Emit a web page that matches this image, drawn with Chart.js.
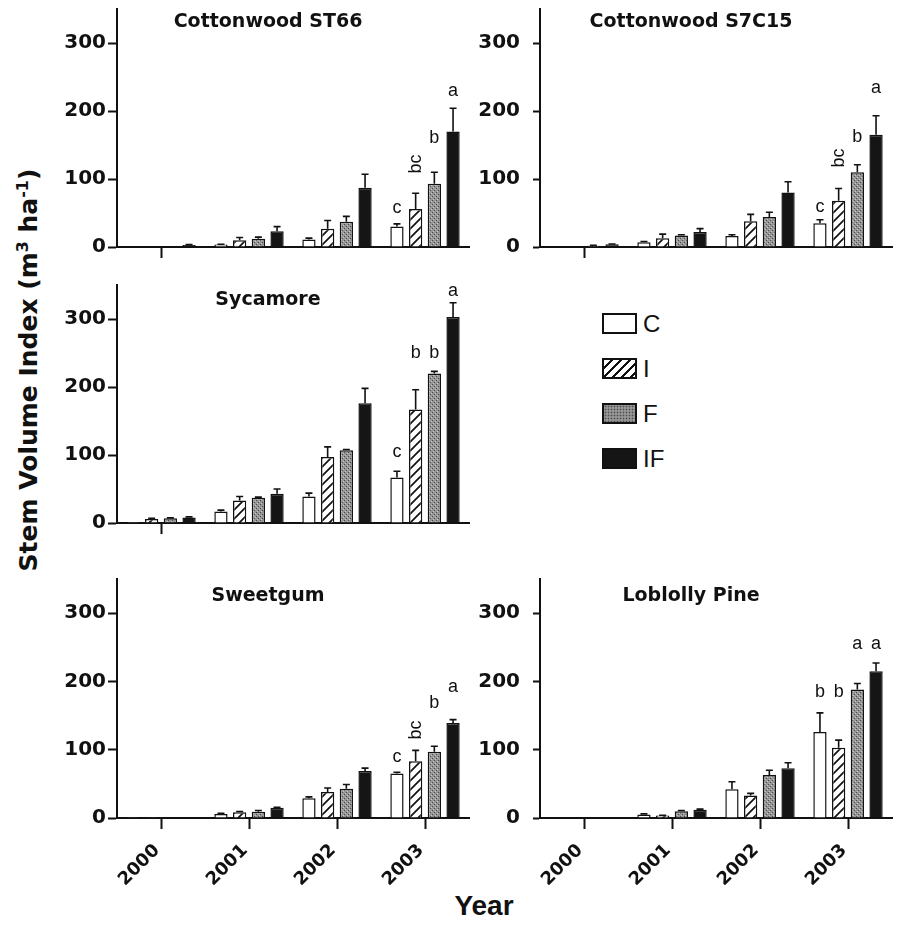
<!DOCTYPE html>
<html>
<head>
<meta charset="utf-8">
<script src="https://cdn.jsdelivr.net/npm/chart.js@4/dist/chart.umd.min.js"></script>
<style>
html,body{margin:0;padding:0;background:#fff;}
body{width:902px;height:931px;position:relative;overflow:hidden;color:#111;}
canvas{position:absolute;}
.title{position:absolute;font:bold 19px "DejaVu Sans",sans-serif;transform:translate(-50%,-50%);white-space:nowrap;color:#111;}
.ytitle{position:absolute;left:28px;top:370px;font:bold 25px "DejaVu Sans",sans-serif;white-space:nowrap;transform:translate(-50%,-50%) rotate(-90deg);color:#111;}
.ytitle sup{font-size:16px;vertical-align:0.55em;line-height:0;}
.xtitle{position:absolute;left:484px;top:906px;font:bold 28px "Liberation Sans",sans-serif;transform:translate(-50%,-50%);color:#111;}
.lgbox{position:absolute;left:602px;width:31px;height:17px;border:2px solid #111;}
.lglab{position:absolute;left:643px;font:24px "Liberation Sans",sans-serif;transform:translateY(-50%);color:#111;}
</style>
</head>
<body>
<div class="ytitle">Stem Volume Index (m<sup>3</sup> ha<sup>-1</sup>)</div>
<div class="xtitle">Year</div>
<script>
// ---------------- DATA ----------------
const years = ['2000', '2001', '2002', '2003'];
const treatments = ['C', 'I', 'F', 'IF'];

// Cottonwood ST66
const st66_C = [0.5, 3.5, 11, 30];
const st66_I = [1, 10, 27, 56];
const st66_F = [1, 12, 37, 93];
const st66_IF = [3, 23, 87, 170];
const st66_errC = [0, 0.5, 2, 4];
const st66_errI = [0, 4, 12, 23];
const st66_errF = [0, 2.5, 8, 17];
const st66_errIF = [0.5, 7, 20, 34];
const st66_letters = ['c', 'bc', 'b', 'a'];
const st66_letterY = [57, 122, 160, 230];

// Cottonwood S7C15
const s7c15_C = [0.5, 7, 16, 35];
const s7c15_I = [1, 13, 38, 68];
const s7c15_F = [2, 17, 44, 110];
const s7c15_IF = [4, 22, 80, 165];
const s7c15_errC = [0, 1, 2, 5];
const s7c15_errI = [0, 6, 10, 18];
const s7c15_errF = [0.5, 1, 7, 11];
const s7c15_errIF = [0.5, 5, 16, 28];
const s7c15_letters = ['c', 'bc', 'b', 'a'];
const s7c15_letterY = [59, 131, 161, 234];

// Sycamore
const syc_C = [1.5, 17, 39, 67];
const syc_I = [6, 33, 97, 167];
const syc_F = [7, 37, 107, 220];
const syc_IF = [8, 43, 176, 303];
const syc_errC = [0, 2, 5, 9];
const syc_errI = [1, 6, 15, 29];
const syc_errF = [0.5, 1, 1, 3];
const syc_errIF = [1, 7, 22, 21];
const syc_letters = ['c', 'b', 'b', 'a'];
const syc_letterY = [104, 250, 250, 341];

// Sweetgum
const swg_C = [0.3, 6, 29, 65];
const swg_I = [0.3, 8.5, 38, 83];
const swg_F = [0.5, 9, 43, 97];
const swg_IF = [1, 15, 69, 139];
const swg_errC = [0, 1, 2, 2];
const swg_errI = [0, 1, 6, 16];
const swg_errF = [0, 2, 6, 8];
const swg_errIF = [0, 0.5, 4, 5];
const swg_letters = ['c', 'bc', 'b', 'a'];
const swg_letterY = [89, 129, 168, 192];

// Loblolly Pine
const lob_C = [0, 5, 42, 126];
const lob_I = [0, 3.5, 33, 103];
const lob_F = [0, 10, 63, 188];
const lob_IF = [0, 12, 73, 215];
const lob_errC = [0, 1, 11, 28];
const lob_errI = [0, 0.5, 3, 11];
const lob_errF = [0, 1, 7, 9];
const lob_errIF = [0, 1, 8, 12];
const lob_letters = ['b', 'b', 'a', 'a'];
const lob_letterY = [184, 184, 255, 255];

const yTicks = [0, 100, 200, 300];
const yMax = 350;

// ---------------- PATTERNS ----------------
function hatchPattern() {
  const c = document.createElement('canvas');
  c.width = 9; c.height = 9;
  const g = c.getContext('2d');
  g.fillStyle = '#fff'; g.fillRect(0, 0, 9, 9);
  g.strokeStyle = '#111'; g.lineWidth = 1.7;
  g.beginPath();
  g.moveTo(-1, 10); g.lineTo(10, -1);
  g.moveTo(-1, 1); g.lineTo(1, -1);
  g.moveTo(8, 10); g.lineTo(10, 8);
  g.stroke();
  return g.createPattern(c, 'repeat');
}
function stipplePattern() {
  const c = document.createElement('canvas');
  c.width = 4; c.height = 4;
  const g = c.getContext('2d');
  g.fillStyle = '#969696'; g.fillRect(0, 0, 4, 4);
  g.fillStyle = '#4a4a4a';
  g.fillRect(0, 0, 1, 1); g.fillRect(2, 2, 1, 1);
  g.fillStyle = '#c4c4c4';
  g.fillRect(1, 3, 1, 1); g.fillRect(3, 1, 1, 1);
  return g.createPattern(c, 'repeat');
}
const fills = ['#ffffff', hatchPattern(), stipplePattern(), '#151515'];

// ---------------- PLUGIN: error bars + letters ----------------
const errLetterPlugin = {
  id: 'errLetters',
  afterDatasetsDraw(chart, args, opts) {
    const ctx = chart.ctx;
    const ys = chart.scales.y;
    ctx.save();
    ctx.strokeStyle = '#111';
    ctx.lineWidth = 1.6;
    chart.data.datasets.forEach((ds, i) => {
      const meta = chart.getDatasetMeta(i);
      meta.data.forEach((bar, j) => {
        const e = ds.errors[j];
        if (!e) return;
        const yTop = ys.getPixelForValue(ds.data[j] + e);
        ctx.beginPath();
        ctx.moveTo(bar.x, bar.y);
        ctx.lineTo(bar.x, yTop);
        ctx.moveTo(bar.x - 3.5, yTop);
        ctx.lineTo(bar.x + 3.5, yTop);
        ctx.stroke();
      });
    });
    ctx.fillStyle = '#111';
    ctx.font = '18px "Liberation Sans", sans-serif';
    ctx.textAlign = 'center';
    ctx.textBaseline = 'middle';
    (opts.letters || []).forEach((t, i) => {
      const bar = chart.getDatasetMeta(i).data[3];
      const y = ys.getPixelForValue(opts.letterY[i]);
      if (t.length > 1) {
        ctx.save();
        ctx.translate(bar.x, y);
        ctx.rotate(-Math.PI / 2);
        ctx.fillText(t, 0, 0);
        ctx.restore();
      } else {
        ctx.fillText(t, bar.x, y);
      }
    });
    ctx.restore();
  }
};

// ---------------- PANELS ----------------
const LEFT = {x: 0, w: 480, yw: 117, padR: 11, tickLen: 9, tickPad: 2, tx: 268};
const RIGHT = {x: 470, w: 432, yw: 70, padR: 10, tickLen: 7, tickPad: 13, tx: 691};
const TOP = {y: 0, h: 262, xh: 15, ty: 20, bottom: false};
const MID = {y: 276, h: 262, xh: 15, ty: 298, bottom: false};
const BOT = {y: 570, h: 330, xh: 82, ty: 594, bottom: true};

const panels = [
  {title: 'Cottonwood ST66', col: LEFT, row: TOP,
   means: [st66_C, st66_I, st66_F, st66_IF], errs: [st66_errC, st66_errI, st66_errF, st66_errIF],
   letters: st66_letters, letterY: st66_letterY},
  {title: 'Cottonwood S7C15', col: RIGHT, row: TOP,
   means: [s7c15_C, s7c15_I, s7c15_F, s7c15_IF], errs: [s7c15_errC, s7c15_errI, s7c15_errF, s7c15_errIF],
   letters: s7c15_letters, letterY: s7c15_letterY},
  {title: 'Sycamore', col: LEFT, row: MID,
   means: [syc_C, syc_I, syc_F, syc_IF], errs: [syc_errC, syc_errI, syc_errF, syc_errIF],
   letters: syc_letters, letterY: syc_letterY},
  {title: 'Sweetgum', col: LEFT, row: BOT,
   means: [swg_C, swg_I, swg_F, swg_IF], errs: [swg_errC, swg_errI, swg_errF, swg_errIF],
   letters: swg_letters, letterY: swg_letterY},
  {title: 'Loblolly Pine', col: RIGHT, row: BOT,
   means: [lob_C, lob_I, lob_F, lob_IF], errs: [lob_errC, lob_errI, lob_errF, lob_errIF],
   letters: lob_letters, letterY: lob_letterY}
];

panels.forEach(p => {
  const col = p.col, row = p.row;
  const canvas = document.createElement('canvas');
  canvas.width = col.w; canvas.height = row.h;
  canvas.style.left = col.x + 'px';
  canvas.style.top = row.y + 'px';
  document.body.appendChild(canvas);

  const t = document.createElement('div');
  t.className = 'title';
  t.textContent = p.title;
  t.style.left = col.tx + 'px';
  t.style.top = row.ty + 'px';
  document.body.appendChild(t);

  new Chart(canvas.getContext('2d'), {
    type: 'bar',
    data: {
      labels: years,
      datasets: treatments.map((name, i) => ({
        label: name,
        data: p.means[i],
        errors: p.errs[i],
        backgroundColor: fills[i],
        borderColor: '#111',
        borderWidth: 1.5,
        categoryPercentage: 0.85,
        barPercentage: 0.71
      }))
    },
    options: {
      responsive: false,
      devicePixelRatio: 1,
      animation: false,
      events: [],
      layout: {padding: {top: 9, right: col.padR, left: 0, bottom: 0}},
      plugins: {
        legend: {display: false},
        tooltip: {enabled: false},
        errLetters: {letters: p.letters, letterY: p.letterY}
      },
      scales: {
        x: {
          type: 'category',
          offset: true,
          grid: {
            display: true, drawOnChartArea: false, drawTicks: true, tickLength: 11, offset: false,
            tickWidth: 2,
            tickColor: (c) => (row.bottom || c.index === 0) ? '#111' : 'rgba(0,0,0,0)'
          },
          border: {display: true, color: '#111', width: 2},
          ticks: {
            display: row.bottom, autoSkip: false, minRotation: 45, maxRotation: 45, padding: 11,
            labelOffset: -4,
            color: '#111', font: {family: 'DejaVu Sans', weight: 'bold', size: 18}
          },
          afterFit: (s) => { s.height = row.xh; s.paddingLeft = 0; s.paddingRight = 0; s.paddingTop = 0; s.paddingBottom = 0; }
        },
        y: {
          min: 0, max: yMax,
          afterBuildTicks: (s) => { s.ticks = yTicks.map(v => ({value: v})); },
          ticks: {
            includeBounds: false, padding: col.tickPad, color: '#111',
            font: {family: 'DejaVu Sans', weight: 'bold', size: 20}
          },
          grid: {display: true, drawOnChartArea: false, drawTicks: true, tickLength: col.tickLen, tickWidth: 2, tickColor: '#111'},
          border: {display: true, color: '#111', width: 2},
          afterFit: (s) => { s.width = col.yw; s.paddingTop = 0; s.paddingBottom = 0; }
        }
      }
    },
    plugins: [errLetterPlugin]
  });
});

// ---------------- LEGEND ----------------
const legendFills = [
  'background:#fff;',
  'background:repeating-linear-gradient(135deg,#fff 0 4.6px,#111 4.6px 6.4px);',
  'background-color:#969696;background-image:radial-gradient(#4a4a4a 0.7px,transparent 1.1px);background-size:3px 3px;',
  'background:#151515;'
];
const legendTops = [313, 358, 403, 448];
treatments.forEach((name, i) => {
  const b = document.createElement('div');
  b.className = 'lgbox';
  b.style.cssText = legendFills[i] + 'top:' + legendTops[i] + 'px;';
  document.body.appendChild(b);
  const l = document.createElement('div');
  l.className = 'lglab';
  l.textContent = name;
  l.style.top = (legendTops[i] + 11) + 'px';
  document.body.appendChild(l);
});
</script>
</body>
</html>
